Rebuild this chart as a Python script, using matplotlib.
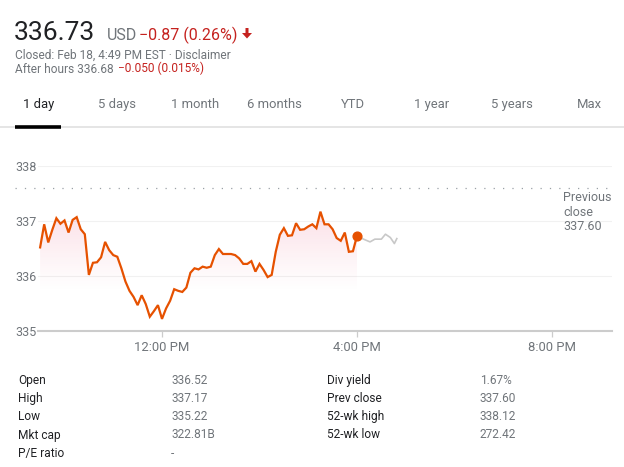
import numpy as np
import pandas as pd
import matplotlib
matplotlib.use('Agg')
import matplotlib.pyplot as plt
from matplotlib.patches import Polygon
from matplotlib.transforms import blended_transform_factory

plt.rcParams['font.family'] = ['Roboto', 'DejaVu Sans']

# quote header
price = '336.73'
change = '\u22120.87 (0.26%)'
closed_line = 'Closed: Feb 18, 4:49 PM EST \u00b7 Disclaimer'
after_price = 'After hours 336.68'
after_change = '\u22120.050 (0.015%)'
tabs = ['1 day', '5 days', '1 month', '6 months', 'YTD', '1 year', '5 years', 'Max']

# intraday prices, 5 minute bars from 9:30 to 16:00
session_prices = [336.52, 336.94, 336.61, 336.84, 337.05, 336.95, 337.01, 336.79, 337.02, 337.07,
                  336.85, 336.76, 336.02, 336.24, 336.25, 336.34, 336.62, 336.47, 336.38, 336.35,
                  336.14, 335.90, 335.73, 335.62, 335.47, 335.65, 335.49, 335.26, 335.36, 335.47,
                  335.22, 335.41, 335.55, 335.76, 335.73, 335.71, 335.79, 336.06, 336.14, 336.12,
                  336.17, 336.15, 336.17, 336.38, 336.49, 336.40, 336.40, 336.40, 336.38, 336.32,
                  336.22, 336.22, 336.27, 336.08, 336.22, 336.11, 335.98, 336.02, 336.44, 336.75,
                  336.87, 336.73, 336.74, 336.96, 336.84, 336.85, 336.90, 336.94, 336.87, 337.17,
                  336.94, 336.94, 336.85, 336.69, 336.64, 336.79, 336.44, 336.45, 336.73]
# after hours (minutes after 4 PM)
after_minutes = [0, 8, 16, 22, 30, 35, 41, 46, 49]
after_prices = [336.73, 336.67, 336.62, 336.67, 336.67, 336.76, 336.70, 336.59, 336.68]

prev_close = 337.60
y_ticks = [335, 336, 337, 338]
x_ticks = [12, 16, 20]
x_tick_labels = ['12:00 PM', '4:00 PM', '8:00 PM']

# key stats table
stat_labels_1 = ['Open', 'High', 'Low', 'Mkt cap', 'P/E ratio']
stat_values_1 = ['336.52', '337.17', '335.22', '322.81B', '-']
stat_labels_2 = ['Div yield', 'Prev close', '52-wk high', '52-wk low']
stat_values_2 = ['1.67%', '337.60', '338.12', '272.42']

W, H = 624, 467
LINE = '#e65100'
GREY = '#70757a'
DARK = '#202124'
RED = '#c5221f'


def px(x, y):
    # pixel position (from top left) -> figure fraction
    return x / W, 1 - y / H


fig = plt.figure(figsize=(W / 100, H / 100), dpi=100)

#####
# header
#####
fig.text(*px(14, 40), price, fontsize=19, color=DARK, va='baseline')
fig.text(*px(107, 40), 'USD', fontsize=11.5, color=GREY, va='baseline')
fig.text(*px(139, 40), change, fontsize=11.5, color=RED, va='baseline')
# down arrow
arrow = [(245.5, 28), (248.5, 28), (248.5, 33), (252, 33), (247, 38.5), (242, 33), (245.5, 33)]
fig.add_artist(Polygon([px(a, b) for a, b in arrow], closed=True, transform=fig.transFigure,
                       facecolor=RED, edgecolor='none'))
fig.text(*px(15, 58.5), closed_line, fontsize=8.6, color=GREY, va='baseline')
fig.text(*px(15, 72.5), after_price, fontsize=8.6, color=GREY, va='baseline')
fig.text(*px(118, 72.5), after_change, fontsize=8.6, color=RED, va='baseline')

# tabs
tab_x = [23, 98, 171, 247, 341, 414, 491, 577]
for i, (lbl, tx) in enumerate(zip(tabs, tab_x)):
    fig.text(*px(tx, 108), lbl, fontsize=9.4, color=DARK if i == 0 else GREY, va='baseline')
fig.add_artist(plt.Line2D([0, 1], [1 - 126.5 / H] * 2, transform=fig.transFigure,
                          color='#e0e0e0', lw=1.2))
fig.add_artist(plt.Line2D([15 / W, 61 / W], [1 - 127 / H] * 2, transform=fig.transFigure,
                          color='black', lw=2.6, solid_capstyle='butt'))

#####
# chart
#####
left, right, bottom, top = 38, 612, 331, 166
ax = fig.add_axes([left / W, 1 - bottom / H, (right - left) / W, (bottom - top) / H])

times = pd.date_range('2020-02-18 09:30', periods=len(session_prices), freq='5min')
t_hours = np.array([t.hour + t.minute / 60 for t in times])
t_after = 16 + np.array(after_minutes) / 60

px_per_hr = 48.75
ax.set_xlim(12 - (162 - left) / px_per_hr, 16 + (right - 357) / px_per_hr)
ax.set_ylim(335, 338)

# gradient fill under session line
verts = [(t_hours[0], 335)] + list(zip(t_hours, session_prices)) + [(t_hours[-1], 335)]
clip = Polygon(verts, closed=True, facecolor='none', edgecolor='none')
ax.add_patch(clip)
yy = np.linspace(335, 337.2, 200)
alpha = np.clip((yy - 335.7) / (337.2 - 335.7), 0, 1) ** 1.2 * 0.17
grad = np.zeros((len(yy), 1, 4))
grad[:, 0, 0] = 0.91
grad[:, 0, 1] = 0.25
grad[:, 0, 2] = 0.42
grad[:, 0, 3] = alpha
im = ax.imshow(grad, extent=[t_hours[0], t_hours[-1], 335, 337.2], origin='lower',
               aspect='auto', interpolation='bilinear', zorder=1)
im.set_clip_path(clip)

# grid lines
for v in y_ticks[1:]:
    ax.axhline(v, color='#f1f1f1', lw=0.8, zorder=0)

# previous close dotted line
ax.axhline(prev_close, xmin=(15 - left) / (right - left), xmax=1, clip_on=False,
           color='#9aa0a6', lw=0.9, linestyle=(0, (1, 6.5)), zorder=2)

ax.plot(t_after, after_prices, color='#c8c8c8', lw=1.2, zorder=3)
ax.plot(t_hours, session_prices, color=LINE, lw=1.6, zorder=4, solid_joinstyle='miter')
ax.plot(t_hours[-1], session_prices[-1], 'o', color=LINE, markersize=6.3, zorder=5)

tr = blended_transform_factory(fig.transFigure, ax.transData)
fig.text(563 / W, 1 - 197 / H, 'Previous', fontsize=9, color=GREY, va='center')
fig.text(563 / W, 1 - 212 / H, 'close', fontsize=9, color=GREY, va='center')
fig.text(563 / W, 1 - 226.5 / H, '337.60', fontsize=9, color=GREY, va='center')

# axes styling
for s in ['top', 'right', 'left']:
    ax.spines[s].set_visible(False)
ax.spines['bottom'].set_color('#cccccc')
ax.spines['bottom'].set_linewidth(1.5)
ax.set_facecolor('none')

ax.set_yticks(y_ticks)
ax.set_yticklabels([str(v) for v in y_ticks])
ax.tick_params(axis='y', length=0, pad=(left - 15) * 0.72, labelsize=9, labelcolor=GREY)
for lbl in ax.get_yticklabels():
    lbl.set_horizontalalignment('left')

ax.set_xticks(x_ticks)
ax.set_xticklabels(x_tick_labels)
ax.tick_params(axis='x', length=4.5, width=0.9, color='#cccccc', pad=3,
               labelsize=9.4, labelcolor=GREY)

#####
# key stats
#####
rows_y = [380.7, 398.3, 416.7, 435, 453.3]
for i, (lbl, val) in enumerate(zip(stat_labels_1, stat_values_1)):
    fig.text(*px(18, rows_y[i]), lbl, fontsize=8.6, color=DARK, va='center')
    fig.text(*px(171, rows_y[i]), val, fontsize=8.6, color=GREY, va='center')
for i, (lbl, val) in enumerate(zip(stat_labels_2, stat_values_2)):
    fig.text(*px(327, rows_y[i]), lbl, fontsize=8.6, color=DARK, va='center')
    fig.text(*px(480, rows_y[i]), val, fontsize=8.6, color=GREY, va='center')

fig.savefig('out.png', dpi=100)
